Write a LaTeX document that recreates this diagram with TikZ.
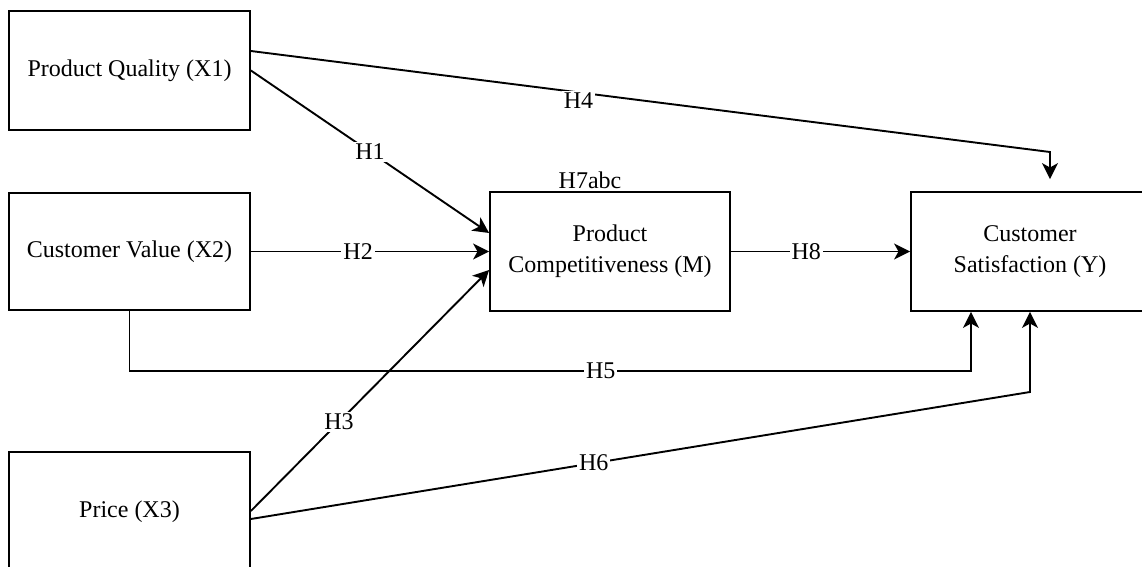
\documentclass[tikz,border=0pt]{standalone}
\usepackage{fontspec}
\setmainfont{Liberation Serif}
\usetikzlibrary{arrows.meta,calc}
\tikzset{
  >=stealth,
  every node/.style={font=\fontsize{12}{15.5}\selectfont},
  % --- nodes
  var/.style    = {draw=black, line width=0.9pt, fill=white, align=center, inner sep=3pt,
                   minimum width=120.5pt, minimum height=59.5pt},
  hlbl/.style   = {fill=white, inner sep=1pt},
  % --- edges
  e/.style      = {-{Stealth[length=8pt,width=8pt,inset=2.2pt]}, line width=0.95pt, draw=black},
}

\begin{document}
\begin{tikzpicture}[x=0.5pt,y=-0.5pt]
  \useasboundingbox (0,0) rectangle (1142,567);
  \node[var] (quality) at (129.5,70.5)  {Product Quality (X1)};
  \node[var, minimum height=58.5pt] (value) at (129.5,251.5) {Customer Value (X2)};
  \node[var, minimum height=60pt] (price) at (129.5,512) {Price (X3)};
  \node[var, minimum width=120pt] (compet) at (610,251.5) {Product\\Competitiveness (M)};
  \node[var, minimum width=119pt] (satis) at (1030,251.5) {Customer\\Satisfaction (Y)};
  \node (h7) at (590,180) {H7abc};
  \coordinate (h4bend) at (1050,152);
  \coordinate (h5bend) at (971,371);
  \coordinate (h6bend) at (1030,392);
  \draw[e] (quality.east) -- node[hlbl,pos=0.5]{H1} ($(compet.west)+(0,-18.5)$);
  \draw[e] (value.east) -- node[hlbl,pos=0.45]{H2} (compet.west);
  \draw[e] ($(price.east)+(0,-1)$) -- node[hlbl,pos=0.37]{H3} ($(compet.west)+(0,18.5)$);
  \draw[e] ($(quality.east)+(0,-19.5)$) -- node[hlbl,pos=0.41,yshift=-4pt]{H4} (h4bend)
           -- ($(satis.north)+(20,-12)$);
  \draw[e] (value.south) |- node[hlbl,pos=0.78]{H5} (h5bend) -- (satis.south -| h5bend);
  \draw[e] ($(price.east)+(0,7)$) -- node[hlbl,pos=0.44]{H6} (h6bend) -- (satis.south);
  \draw[e] (compet.east) -- node[hlbl,pos=0.42]{H8} (satis.west);
\end{tikzpicture}
\end{document}
